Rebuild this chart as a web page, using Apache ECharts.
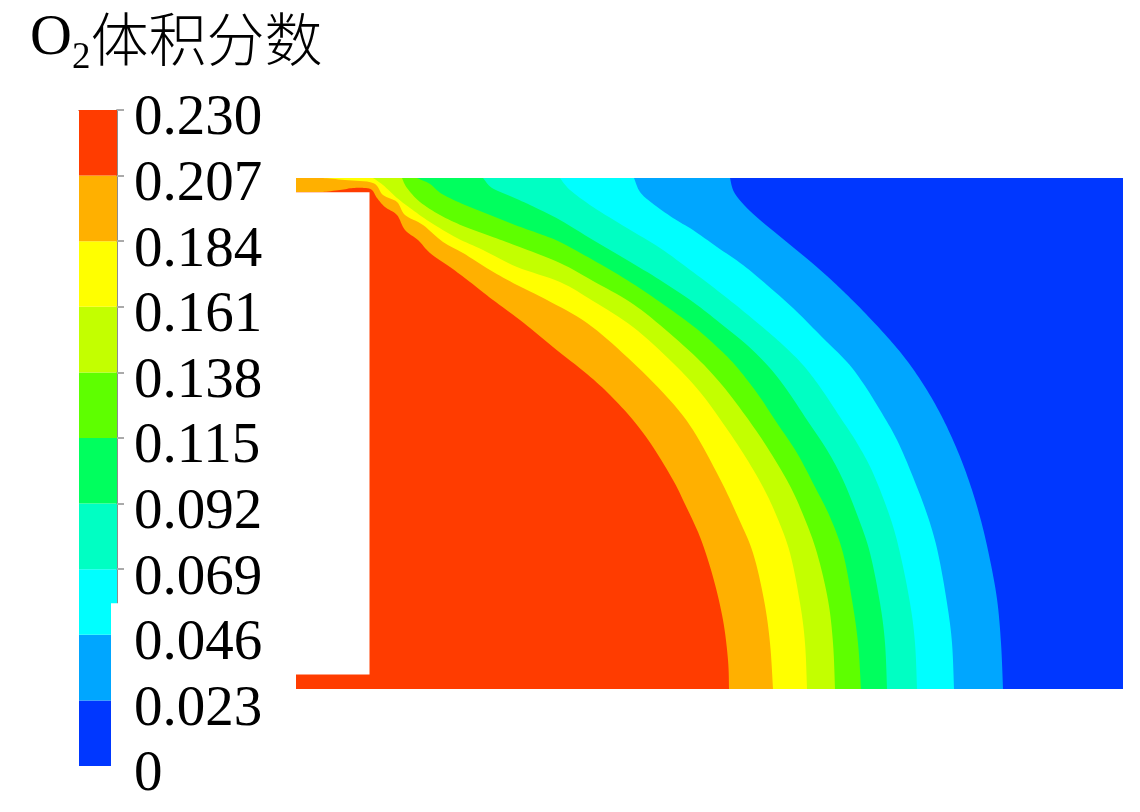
<!DOCTYPE html>
<html>
<head>
<meta charset="utf-8">
<title>O2体积分数</title>
<style>
html,body{margin:0;padding:0;background:#fff;}
#chart{width:1140px;height:812px;}
</style>
<script src="https://cdn.jsdelivr.net/npm/echarts@6/dist/echarts.min.js"></script>
</head>
<body>
<div id="chart"></div>
<script>
// colour bar
var bandEdges = [0, 0.023, 0.046, 0.069, 0.092, 0.115, 0.138, 0.161, 0.184, 0.207, 0.23];
var bandColors = ['#0037ff', '#00a6ff', '#00ffff', '#00ffc3', '#00ff5e', '#5eff00', '#c3ff00', '#ffff00', '#ffb000', '#ff3c00'];
var tickLabels = ['0', '0.023', '0.046', '0.069', '0.092', '0.115', '0.138', '0.161', '0.184', '0.207', '0.230'];

// contour edges, [x, y], top of the domain to the bottom
var domain = [[296, 178], [1123, 178], [1123, 689], [296, 689]];
var edge023 = [[730, 178], [734, 192], [745, 206], [760, 220], [777, 234], [794, 248], [811, 262], [827, 276], [843, 291], [866, 314], [890, 340], [908, 362], [925, 387], [941, 415], [956, 447], [969, 481], [980, 517], [989, 555], [997, 599], [1001, 643], [1003, 689]];
var edge046 = [[634, 178], [640, 192], [652, 203], [673, 218], [693, 230], [717, 247], [743, 265], [767, 285], [793, 308], [820, 335], [847, 362], [863, 383], [880, 410], [897, 440], [913, 477], [928, 517], [938, 553], [947, 603], [952, 643], [954, 689]];
var edge069 = [[560, 178], [570, 190], [593, 207], [627, 228], [660, 248], [693, 272], [727, 298], [760, 325], [783, 345], [803, 365], [820, 387], [840, 417], [857, 443], [873, 473], [890, 517], [900, 553], [910, 603], [915, 643], [917, 689]];
var edge092 = [[483, 178], [492, 188], [510, 196], [530, 205], [560, 220], [593, 240], [627, 260], [660, 280], [693, 302], [720, 323], [747, 345], [769, 367], [787, 390], [807, 420], [827, 450], [843, 480], [858, 517], [870, 553], [880, 603], [885, 643], [887, 689]];
var edge115 = [[417, 178], [430, 184], [442, 194], [465, 205], [490, 215], [515, 225], [540, 234], [560, 242], [593, 260], [627, 280], [660, 302], [693, 326], [715, 345], [735, 365], [757, 393], [777, 423], [797, 453], [815, 487], [830, 517], [843, 553], [852, 600], [858, 643], [861, 689]];
var edge138 = [[402, 178], [407, 188], [420, 202], [440, 215], [463, 226], [490, 236], [517, 246], [560, 263], [593, 281], [630, 302], [660, 325], [697, 358], [722, 385], [745, 415], [767, 447], [789, 484], [804, 517], [817, 553], [828, 600], [833, 643], [835, 689]];
var edge161 = [[373, 178], [383, 185], [397, 198], [410, 208], [430, 222], [457, 238], [483, 250], [517, 267], [560, 282], [593, 301], [633, 327], [673, 363], [700, 392], [720, 419], [743, 453], [763, 487], [777, 517], [790, 553], [800, 603], [805, 643], [807, 689]];
var edge184 = [[323, 178], [345, 180], [373, 183], [383, 195], [397, 202], [405, 215], [423, 225], [443, 242], [463, 253], [490, 270], [517, 285], [547, 300], [587, 323], [627, 357], [667, 397], [693, 430], [720, 479], [738, 517], [753, 553], [764, 600], [770, 643], [773, 689]];
var edge207 = [[323, 192], [340, 190], [353, 188], [365, 188], [372, 190], [377, 198], [385, 207], [397, 215], [405, 230], [418, 240], [430, 253], [450, 267], [470, 282], [493, 300], [520, 320], [553, 347], [587, 374], [610, 395], [633, 420], [653, 447], [673, 480], [683, 500], [700, 537], [713, 577], [723, 620], [728, 660], [729, 689]];
var wall = [[296, 192.3], [369.5, 192.3], [369.5, 674.5], [296, 674.5]];
var contourEdges = [edge023, edge046, edge069, edge092, edge115, edge138, edge161, edge184, edge207];

// lower part of the colour bar is cut by a white patch in the source figure
var patchX = [111, 127];
var patchY = [-0.002, 0.0571];

// round the drawn outline between the read points
function smoothLine(pts) {
    var out = [];
    for (var i = 0; i < pts.length - 1; i++) {
        var p0 = pts[Math.max(i - 1, 0)], p1 = pts[i], p2 = pts[i + 1], p3 = pts[Math.min(i + 2, pts.length - 1)];
        for (var k = 0; k < 8; k++) {
            var t = k / 8, t2 = t * t, t3 = t2 * t;
            out.push([
                0.5 * (2 * p1[0] + (p2[0] - p0[0]) * t + (2 * p0[0] - 5 * p1[0] + 4 * p2[0] - p3[0]) * t2 + (3 * p1[0] - p0[0] - 3 * p2[0] + p3[0]) * t3),
                0.5 * (2 * p1[1] + (p2[1] - p0[1]) * t + (2 * p0[1] - 5 * p1[1] + 4 * p2[1] - p3[1]) * t2 + (3 * p1[1] - p0[1] - 3 * p2[1] + p3[1]) * t3)
            ]);
        }
    }
    out.push(pts[pts.length - 1]);
    return out;
}

function polygonSeries(points, closing, color) {
    return {
        type: 'custom',
        xAxisIndex: 0,
        yAxisIndex: 0,
        silent: true,
        data: [0],
        renderItem: function (params, api) {
            var line = closing.length ? smoothLine(points.map(function (p) { return api.coord(p); })) : points.map(function (p) { return api.coord(p); });
            return {
                type: 'polygon',
                shape: { points: line.concat(closing.map(function (p) { return api.coord(p); })) },
                style: { fill: color }
            };
        }
    };
}

// every band is painted from its edge back to the left side of the domain
var series = [polygonSeries(domain, [], bandColors[0])];
contourEdges.forEach(function (edge, i) {
    series.push(polygonSeries(edge, [[296, 689], [296, edge[0][1]]], bandColors[i + 1]));
});
series.push(polygonSeries(wall, [], '#ffffff'));

series.push({
    type: 'custom',
    xAxisIndex: 1,
    yAxisIndex: 1,
    silent: true,
    data: bandEdges.slice(1).map(function (hi, i) { return [bandEdges[i], hi]; }),
    encode: { y: [0, 1] },
    renderItem: function (params, api) {
        var lo = api.coord([79, api.value(0)]);
        var hi = api.coord([117, api.value(1)]);
        return {
            type: 'rect',
            shape: { x: lo[0], y: hi[1], width: hi[0] - lo[0], height: lo[1] - hi[1] },
            style: { fill: bandColors[params.dataIndex] }
        };
    }
});
series.push({
    type: 'custom',
    xAxisIndex: 1,
    yAxisIndex: 1,
    silent: true,
    z: 5,
    data: [0],
    renderItem: function (params, api) {
        var a = api.coord([patchX[0], patchY[0]]);
        var b = api.coord([patchX[1], patchY[1]]);
        return {
            type: 'rect',
            shape: { x: a[0], y: b[1], width: b[0] - a[0], height: a[1] - b[1] },
            style: { fill: '#ffffff' }
        };
    }
});

var chart = echarts.init(document.getElementById('chart'));
chart.setOption({
    animation: false,
    backgroundColor: '#ffffff',
    title: {
        left: 25,
        top: -4,
        text: '{o|O}{s|2}{c|体积分数}',
        textStyle: {
            fontWeight: 'normal',
            rich: {
                o: { fontFamily: 'Liberation Serif', fontSize: 58, fontWeight: 'normal', color: '#000', lineHeight: 76 },
                s: { fontFamily: 'Liberation Serif', fontSize: 37, fontWeight: 'normal', color: '#000', verticalAlign: 'bottom', lineHeight: 56 },
                c: { fontFamily: 'Noto Sans CJK SC', fontSize: 58, fontWeight: 300, color: '#000', lineHeight: 76 }
            }
        }
    },
    grid: [
        { left: 296, top: 178, width: 827, height: 511 },
        { left: 79, top: 110, width: 38, height: 656 }
    ],
    xAxis: [
        { type: 'value', gridIndex: 0, min: 296, max: 1123, show: false },
        {
            type: 'value', gridIndex: 1, min: 79, max: 117, position: 'top',
            axisLine: { show: true, onZero: false, lineStyle: { color: '#8a2a10', width: 1 } },
            axisTick: { show: false }, axisLabel: { show: false }, splitLine: { show: false }
        }
    ],
    yAxis: [
        { type: 'value', gridIndex: 0, min: 178, max: 689, inverse: true, show: false },
        {
            type: 'value', gridIndex: 1, min: 0, max: 0.23, interval: 0.023, position: 'right',
            axisLine: { show: true, onZero: false, lineStyle: { color: '#666', width: 1.5 } },
            axisTick: { show: true, length: 7, lineStyle: { color: '#aaa', width: 2 } },
            splitLine: { show: false },
            axisLabel: {
                show: true,
                margin: 17,
                color: '#000',
                fontFamily: 'Liberation Serif',
                fontSize: 57,
                verticalAlign: 'top',
                lineHeight: 19,
                showMinLabel: true,
                showMaxLabel: true,
                formatter: function (v) { return tickLabels[Math.round(v / 0.023)]; }
            }
        }
    ],
    series: series
});
</script>
</body>
</html>
